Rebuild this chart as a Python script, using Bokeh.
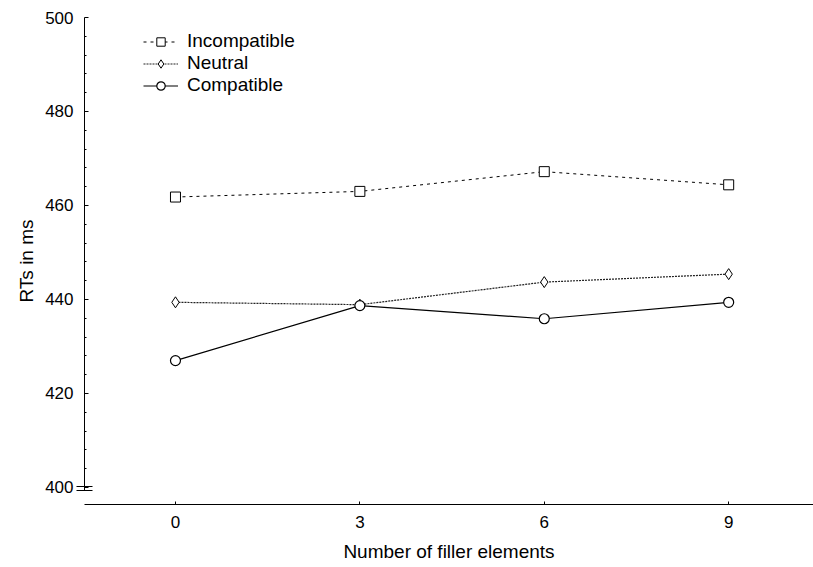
from bokeh.plotting import figure
from bokeh.models import (Range1d, FixedTicker, Legend, LegendItem, LinearAxis)
from bokeh.embed import file_html
from bokeh.resources import INLINE

# Data
filler = [0, 3, 6, 9]
incompatible = [461.8, 463.0, 467.2, 464.4]
neutral = [439.4, 438.9, 443.7, 445.4]
compatible = [427.0, 438.7, 435.9, 439.4]
y_ticks = [400, 420, 440, 460, 480, 500]
y_minor = list(range(404, 500, 4))
x_ticks = [0, 3, 6, 9]
break_marks = [399.4, 400.2]

FONT = "Liberation Sans"
X_START, X_END = -1.48, 10.38

p = figure(width=813, height=567, output_backend="svg", toolbar_location=None,
           x_range=Range1d(X_START, X_END), y_range=Range1d(396.38, 500.0),
           min_border_left=84, min_border_right=0, min_border_top=17,
           min_border_bottom=63)
p.outline_line_color = None
p.grid.visible = False
p.background_fill_color = "white"
p.border_fill_color = "white"

# x axis
xa = p.xaxis[0]
xa.ticker = FixedTicker(ticks=x_ticks)
xa.axis_label = "Number of filler elements"
xa.axis_label_text_font = FONT
xa.axis_label_text_font_size = "19px"
xa.axis_label_text_font_style = "normal"
xa.axis_label_text_color = "black"
xa.axis_label_standoff = 10
xa.major_label_text_font = FONT
xa.major_label_text_font_size = "17px"
xa.major_label_text_color = "black"
xa.major_label_standoff = 11
xa.major_tick_in = 3
xa.major_tick_out = 0
xa.minor_tick_in = 0
xa.minor_tick_out = 0
xa.axis_line_color = "black"
xa.major_tick_line_color = "black"

# y axis: major ticks + labels; its minor ticks draw the "=" axis-break mark
ya = p.yaxis[0]
ya.ticker = FixedTicker(ticks=y_ticks, minor_ticks=break_marks)
ya.bounds = (break_marks[0], 500)
ya.axis_label = "RTs in ms"
ya.axis_label_text_font = FONT
ya.axis_label_text_font_size = "19px"
ya.axis_label_text_font_style = "normal"
ya.axis_label_text_color = "black"
ya.axis_label_standoff = 5
ya.major_label_text_font = FONT
ya.major_label_text_font_size = "17px"
ya.major_label_text_color = "black"
ya.major_label_standoff = 3
ya.major_tick_in = 4
ya.major_tick_out = 0
ya.minor_tick_in = 8
ya.minor_tick_out = 8
ya.minor_tick_line_width = 1.2
ya.axis_line_color = "black"
ya.major_tick_line_color = "black"
ya.minor_tick_line_color = "black"

# small inner minor ticks every 4 ms, from a tick-only axis on the frame edge
mt = LinearAxis(ticker=FixedTicker(ticks=[], minor_ticks=y_minor),
                fixed_location=X_START, axis_line_color=None,
                major_tick_in=0, major_tick_out=0,
                minor_tick_in=2, minor_tick_out=0, minor_tick_line_color="black",
                major_label_text_alpha=0, major_label_text_font_size="1px",
                major_label_standoff=0)
p.add_layout(mt, "left")

# series
l1 = p.line(filler, incompatible, line_color="black", line_width=1, line_dash="3 4")
s1 = p.scatter(filler, incompatible, marker="square", size=10, fill_color="white",
               line_color="black", line_width=1)
l2 = p.line(filler, neutral, line_color="#222222", line_width=1.2, line_dash="2 1")
s2 = p.scatter(filler, neutral, marker="diamond", size=11, fill_color="white",
               line_color="black", line_width=1)
l3 = p.line(filler, compatible, line_color="black", line_width=1.2)
s3 = p.scatter(filler, compatible, marker="circle", size=10, fill_color="white",
               line_color="black", line_width=1.2)

legend = Legend(items=[
    LegendItem(label="Incompatible", renderers=[l1, s1]),
    LegendItem(label="Neutral", renderers=[l2, s2]),
    LegendItem(label="Compatible", renderers=[l3, s3]),
], location=(59, 408))
legend.margin = 0
legend.padding = 0
legend.spacing = 0
legend.glyph_width = 35
legend.glyph_height = 21
legend.label_height = 21
legend.label_standoff = 9
legend.label_text_font = FONT
legend.label_text_font_size = "19px"
legend.label_text_color = "black"
legend.background_fill_alpha = 0
legend.border_line_color = None
p.add_layout(legend)

open("out.html", "w").write(file_html(p, INLINE))
